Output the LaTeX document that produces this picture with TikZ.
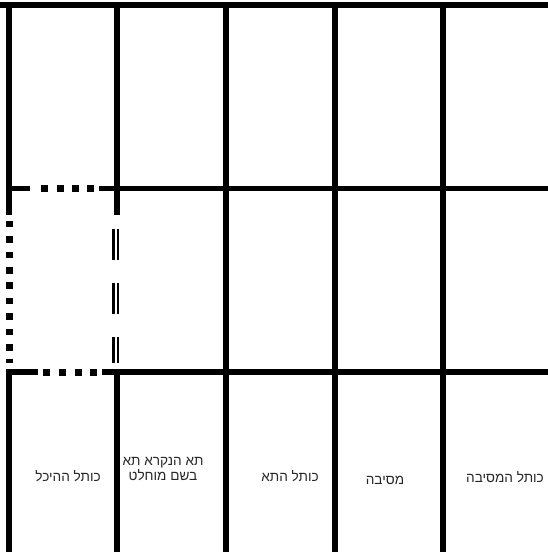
\documentclass[tikz,border=0pt]{standalone}
\usepackage{fontspec}
\newfontfamily\hebfont[Script=Hebrew]{Liberation Sans}
\TeXXeTstate=1
\begin{document}
\begin{tikzpicture}[x=1pt,y=-1pt,
  wall/.style={line width=5.6pt,line cap=butt},
  thinwall/.style={line width=2.4pt},
  sq/.style={fill=black},
  lbl/.style={font=\hebfont\fontsize{13.6}{15.5}\selectfont,text=black!85,inner sep=0pt,align=center}]
\useasboundingbox (0,0) rectangle (548,552);
% top border
\draw[wall,line width=6pt] (0,5) -- (548,5);
% left border
\draw[wall] (8.8,2) -- (8.8,215);
\draw[wall] (8.8,369.2) -- (8.8,552);
\foreach \k in {0,...,8}{
  \fill[sq] (6,{220.7+15.4*\k}) rectangle (13.2,{227.3+15.4*\k});
}
\fill[sq] (6,359) rectangle (13.2,363);
% inner verticals
\draw[wall] (116.8,2) -- (116.8,215);
\draw[wall] (116.8,369.2) -- (116.8,552);
\foreach \a/\b in {229/260,283/314,337/363}{
  \draw[thinwall] (113.6,\a) -- (113.6,\b);
  \draw[thinwall] (118.2,\a) -- (118.2,\b);
}
\foreach \x in {226,335,443}{
  \draw[wall] (\x,2) -- (\x,552);
}
% upper horizontal
\draw[wall] (6,188.3) -- (30,188.3);
\draw[wall] (99,188.3) -- (548,188.3);
\foreach \s in {41,56.5,72,87.2}{
  \fill[sq] (\s,184.8) rectangle ({\s+7.2},191.8);
}
% lower horizontal
\draw[wall] (6,372) -- (38,372);
\draw[wall] (102,372) -- (548,372);
\foreach \s in {43.2,58.8,74.5,90.2}{
  \fill[sq] (\s,368.5) rectangle ({\s+7},375.5);
}
% labels
\node[lbl] (t1) at (68,476) {\beginR כותל ההיכל\endR};
\node[lbl] (t2) at (163,469) {\beginR תא הנקרא תא\endR\\\beginR בשם מוחלט\endR};
\node[lbl] (t3) at (290,476) {\beginR כותל התא\endR};
\node[lbl] (t4) at (385,480) {\beginR מסיבה\endR};
\node[lbl] (t5) at (505,477) {\beginR כותל המסיבה\endR};
\end{tikzpicture}
\end{document}
